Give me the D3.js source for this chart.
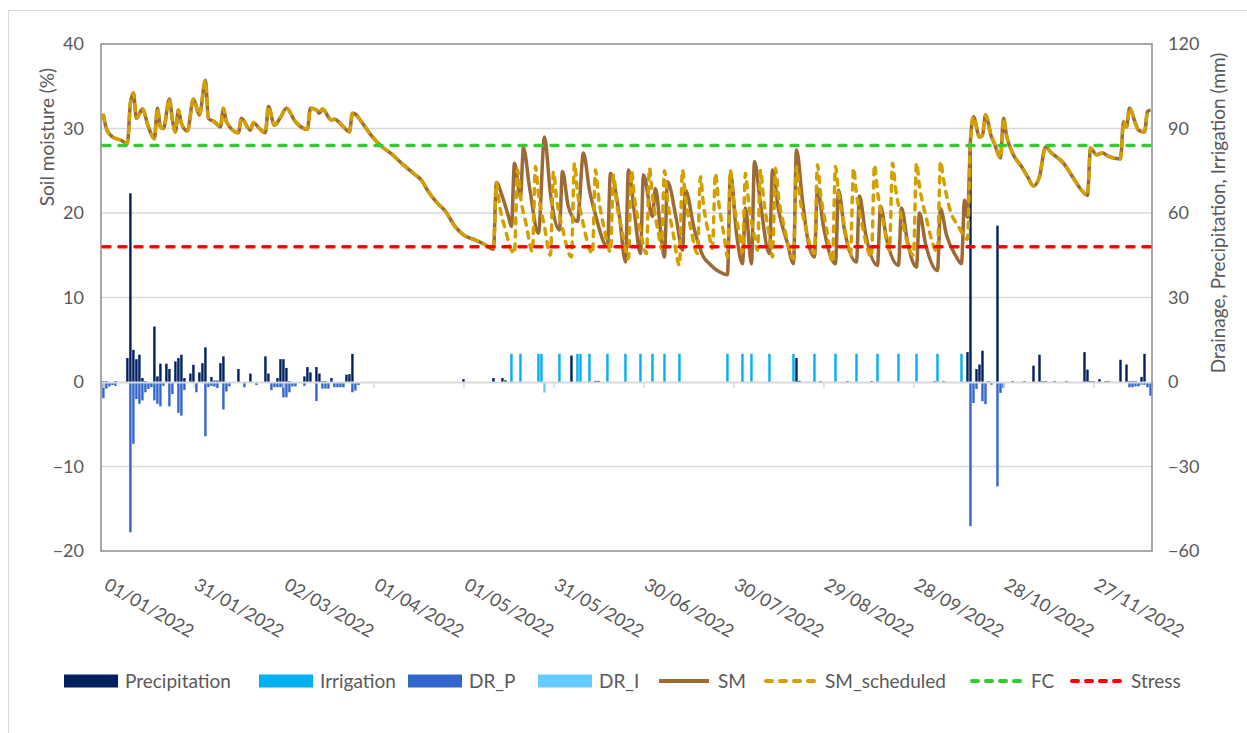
<!DOCTYPE html>
<html>
<head>
<meta charset="utf-8">
<script src="https://cdn.jsdelivr.net/npm/d3@7"></script>
<style>
  body { margin: 0; background: #fff; }
  svg text { font-family: Lato, "Open Sans", sans-serif; fill: #595959; }
</style>
</head>
<body>
<svg id="chart" width="1247" height="733"></svg>
<script>
// ---- data (day index from 01/01/2022) ----
const tickLabels = ["01/01/2022", "31/01/2022", "02/03/2022", "01/04/2022", "01/05/2022", "31/05/2022",
  "30/06/2022", "30/07/2022", "29/08/2022", "28/09/2022", "28/10/2022", "27/11/2022"];
const leftTicks = [-20, -10, 0, 10, 20, 30, 40];
const rightTicks = [-60, -30, 0, 30, 60, 90, 120];

const precipitation = [
  [0, 0.3], [1, 0.3], [4, 0.3], [8, 8.5], [9, 67], [10, 11.4], [11, 8.1], [12, 9.7], [13, 1.4], [14, 0.3],
  [17, 19.7], [18, 2], [19, 6.5], [21, 6.5], [22, 4.6], [24, 7.3], [25, 8.5], [26, 9.7], [27, 1.4],
  [29, 3], [30, 6.1], [32, 3.4], [33, 6.7], [34, 12.3], [36, 1.8], [37, 0.5], [38, 0.5], [39, 6.7], [40, 9.1],
  [45, 4.6], [49, 3], [54, 9.1], [55, 3], [58, 1.4], [59, 8.1], [60, 8.1], [61, 5], [62, 0.3],
  [67, 2], [68, 5.3], [69, 3.4], [71, 5.3], [72, 3], [73, 0.3], [74, 0.3], [76, 1.4], [81, 2.6], [82, 2.8], [83, 10],
  [120, 1], [130, 1.4], [133, 1.4], [134, 0.6], [156, 9.4], [164, 0.4], [165, 0.4], [231, 8.5], [232, 0.4],
  [239, 0.3], [248, 0.3], [256, 0.3], [277, 0.3], [280, 0.3],
  [288, 10.6], [289, 81.5], [291, 4.6], [292, 6.2], [293, 11.1], [295, 0.3], [298, 55.5], [303, 0.3], [307, 0.3],
  [310, 5.8], [312, 9.7], [313, 0.3], [314, 0.3], [317, 0.3], [321, 0.3], [327, 10.6], [328, 4.4], [329, 0.3],
  [330, 0.3], [332, 1], [334, 0.3], [335, 0.3], [339, 7.9], [341, 6.2], [342, 0.3], [343, 0.3], [344, 0.3],
  [346, 1.8], [347, 10]
];

const irrigation = [
  [136, 10], [139, 10], [145, 10], [146, 10], [152, 10], [158, 10], [159, 10], [162, 10], [168, 10],
  [174, 10], [179, 10], [183, 10], [187, 10], [192, 10], [208, 10], [213, 10], [216, 10], [222, 10],
  [230, 10], [237, 10], [244, 10], [251, 10], [258, 10], [265, 10], [271, 10], [278, 10], [286, 10]
];

const drP = [
  [0, -5.4], [1, -2], [2, -1.2], [3, -0.7], [4, -1], [9, -53], [10, -21.6], [11, -5.7], [12, -7.4], [13, -6.2],
  [14, -3.3], [15, -2.1], [16, -1.5], [17, -6.2], [18, -7.4], [19, -8.3], [20, -1], [22, -8.3], [23, -3.9],
  [25, -10.6], [26, -11.6], [27, -2.5], [31, -3.3], [34, -18.9], [35, -1.5], [36, -1], [37, -1.3], [38, -1.8],
  [40, -9.4], [41, -3], [42, -1.2], [47, -1.5], [51, -0.7], [56, -2.5], [57, -1.5], [58, -1.5], [59, -1.5],
  [60, -5.1], [61, -5.1], [62, -3.3], [63, -1.2], [64, -1.2], [67, -1], [71, -6.4], [73, -2], [74, -2], [75, -2],
  [77, -1.5], [78, -1.5], [79, -1.5], [80, -1.5], [83, -3.3], [84, -2.7], [85, -0.7],
  [289, -50.8], [290, -7.1], [291, -2.1], [293, -6.5], [294, -7.5], [296, -0.6], [298, -36.7], [299, -3.5],
  [300, -1.8], [342, -1.5], [343, -1.5], [344, -1.2], [345, -1.2], [346, -0.6], [347, -0.6], [348, -1.5], [349, -4.5]
];

const drI = [[147, -3.4]];

// soil moisture, part shared by SM and SM_scheduled (Jan - May)
const smStart = [
  [0, 31.6], [1, 30.0], [3, 29.0], [6, 28.6], [8, 28.2], [9, 33.0], [10, 34.2], [11, 31.2], [13, 32.3], [15, 30.2],
  [17, 28.8], [18, 32.4], [19, 30.2], [20, 30.0], [22, 33.5], [23, 31.0], [24, 29.6], [25, 32.2], [26, 30.6],
  [28, 29.7], [30, 33.5], [32, 31.6], [34, 35.7], [35, 31.2], [37, 30.8], [39, 30.2], [40, 32.4], [41, 30.8],
  [45, 29.5], [46, 31.2], [49, 29.8], [50, 30.7], [52, 30.0], [54, 29.5], [55, 32.6], [57, 30.4], [59, 31.3],
  [61, 32.4], [64, 30.8], [68, 29.9], [69, 32.4], [71, 32.2], [72, 31.8], [73, 32.3], [76, 31.0], [77, 31.1],
  [80, 30.2], [82, 29.6], [83, 31.8], [84, 31.7], [86, 30.8], [89, 29.3], [92, 28.1], [96, 27.0], [100, 25.7],
  [104, 24.5], [106, 23.9], [108, 22.7], [111, 21.3], [114, 20.2], [117, 18.5], [120, 17.4], [124, 16.8],
  [127, 16.3], [130, 15.7], [131, 23.6]
];

// measured SM during the irrigation season
const smSeason = [
  [133, 21.9], [135, 19.6], [136, 18.4], [137, 25.9], [139, 21.9], [140, 27.7], [142, 23.1], [145, 17.6],
  [147, 29.0], [149, 22.3], [152, 18.0], [153, 24.9], [155, 20.7], [158, 19.0], [160, 27.1], [162, 22.7],
  [164, 19.8], [168, 16.0], [169, 24.7], [172, 19.6], [174, 14.2], [175, 25.1], [177, 20.0], [179, 15.2],
  [180, 24.5], [183, 19.6], [184, 22.9], [186, 16.8], [187, 14.8], [188, 23.7], [191, 19.2], [193, 15.6],
  [194, 22.7], [197, 18.0], [200, 14.8], [202, 14.0], [205, 13.1], [208, 12.7], [209, 24.7], [211, 17.6],
  [213, 14.0], [214, 20.6], [216, 14.0], [217, 26.1], [219, 21.1], [222, 15.2], [223, 25.1], [225, 20.4],
  [228, 16.4], [230, 14.0], [231, 27.5], [233, 21.5], [235, 16.4], [237, 14.8], [238, 22.9], [240, 18.4],
  [244, 14.0], [245, 22.7], [247, 18.0], [251, 14.2], [252, 22.0], [254, 17.6], [258, 13.8], [259, 20.8],
  [261, 17.0], [265, 13.8], [266, 20.6], [268, 16.6], [271, 13.6], [272, 20.0], [274, 16.4], [278, 13.2],
  [279, 20.5], [281, 17.4], [284, 15.0], [286, 14.0], [287, 21.5], [288, 19.5]
];

// scheduled SM during the irrigation season
const smSchedSeason = [
  [132, 21.0], [134, 18.0], [136, 15.6], [137, 15.2], [138, 25.1], [139, 22.0], [141, 18.5], [143, 15.4],
  [144, 25.5], [145, 22.3], [147, 18.4], [149, 15.0], [150, 24.9], [151, 21.8], [153, 18.2], [156, 14.8],
  [157, 25.9], [158, 22.5], [160, 18.6], [163, 15.2], [164, 25.1], [165, 22.0], [167, 18.0], [169, 15.4],
  [170, 24.5], [171, 21.4], [173, 17.6], [175, 14.6], [176, 25.0], [177, 21.8], [179, 17.8], [181, 15.2],
  [182, 25.3], [183, 22.0], [185, 17.6], [186, 15.8], [187, 25.0], [188, 21.6], [190, 17.4], [192, 13.8],
  [193, 25.1], [194, 21.8], [196, 17.8], [198, 15.2], [199, 24.3], [200, 21.0], [202, 17.2], [203, 15.8],
  [204, 24.7], [205, 21.5], [207, 17.0], [208, 14.8], [209, 25.0], [210, 21.6], [212, 17.4], [213, 15.4],
  [214, 24.7], [215, 21.4], [217, 17.2], [218, 15.6], [219, 25.1], [220, 21.8], [222, 17.2], [223, 14.8],
  [224, 25.3], [225, 22.0], [227, 18.2], [230, 14.6], [231, 25.5], [232, 22.2], [234, 18.4], [237, 15.2],
  [238, 25.7], [239, 22.4], [241, 18.2], [243, 14.2], [244, 25.5], [245, 22.4], [247, 18.4], [249, 15.0],
  [250, 25.3], [251, 22.3], [253, 18.4], [256, 14.8], [257, 25.7], [258, 22.6], [260, 18.8], [262, 15.6],
  [263, 25.9], [264, 23.0], [266, 19.4], [270, 15.0], [271, 25.9], [272, 23.2], [274, 19.8], [278, 15.4],
  [279, 26.1], [280, 24.0], [282, 20.6], [285, 18.4], [288, 16.9]
];

// shared again after the October rain
const smEnd = [
  [289, 28.6], [290, 31.4], [292, 29.0], [293, 29.2], [294, 31.6], [296, 29.0], [297, 28.2], [299, 26.5],
  [300, 31.2], [301, 29.2], [303, 27.1], [306, 25.5], [308, 24.3], [310, 23.2], [312, 24.3], [314, 27.8],
  [316, 27.1], [320, 25.9], [323, 24.3], [326, 22.7], [328, 22.1], [329, 27.7], [331, 26.9], [333, 27.1],
  [335, 26.7], [339, 26.4], [340, 30.8], [341, 30.2], [342, 32.4], [344, 30.6], [345, 29.8], [347, 29.6],
  [348, 32.0], [349, 32.2]
];

const fcLevel = 28;
const stressLevel = 16;

// ---- layout ----
const L = 101, R = 1152, T = 44, B = 551;
const svg = d3.select("#chart");

const parseDay = d3.timeParse("%d/%m/%Y");
const day0 = parseDay(tickLabels[0]);
const tickDays = tickLabels.map(s => d3.timeDay.count(day0, parseDay(s)));

const x = d3.scaleLinear().domain([-0.8, 349.5]).range([L, R]);
const y = d3.scaleLinear().domain([-20, 40]).range([B, T]);
const y2 = d3.scaleLinear().domain([-60, 120]).range([B, T]);

// outer chart border
svg.append("rect")
  .attr("x", 8.5).attr("y", 10.5).attr("width", 1260).attr("height", 740)
  .attr("fill", "none").attr("stroke", "#d9d9d9");

// gridlines
svg.append("g")
  .selectAll("line")
  .data(leftTicks.filter(v => v !== 0 && v !== 40 && v !== -20))
  .enter().append("line")
  .attr("x1", L).attr("x2", R)
  .attr("y1", d => y(d)).attr("y2", d => y(d))
  .attr("stroke", "#d9d9d9").attr("stroke-width", 1.5);

// bars
const bw = x(1) - x(0) - 0.6;
function drawBars(data, color) {
  svg.append("g")
    .selectAll("rect")
    .data(data)
    .enter().append("rect")
    .attr("x", d => x(d[0]) - bw / 2)
    .attr("width", bw)
    .attr("y", d => d[1] >= 0 ? y2(d[1]) : y2(0) + 1)
    .attr("height", d => Math.max(0.8, Math.abs(y2(d[1]) - y2(0))))
    .attr("fill", color);
}
drawBars(precipitation, "#002060");
drawBars(irrigation, "#00b0f0");
drawBars(drP, "#3366cc");
drawBars(drI, "#66ccff");

// zero axis with ticks
const xAxis = svg.append("g")
  .attr("transform", `translate(0,${y(0)})`)
  .call(d3.axisBottom(x).tickValues(tickDays).tickSize(6).tickFormat(""));
xAxis.select(".domain").attr("stroke", "#d9d9d9").attr("stroke-width", 2);
xAxis.selectAll(".tick line").attr("stroke", "#d9d9d9").attr("stroke-width", 1.5);

// plot border
svg.append("rect")
  .attr("x", L).attr("y", T).attr("width", R - L).attr("height", B - T)
  .attr("fill", "none").attr("stroke", "#8c8c8c").attr("stroke-width", 1.5);

// lines
const line = d3.line().x(d => x(d[0])).y(d => y(d[1])).curve(d3.curveMonotoneX);
const smData = smStart.concat(smSeason, smEnd);
const smSchedData = smStart.concat(smSchedSeason, smEnd);

svg.append("path").datum(smData)
  .attr("d", line).attr("fill", "none")
  .attr("stroke", "#9c6a34").attr("stroke-width", 3.5)
  .attr("stroke-linejoin", "round");

svg.append("path").datum(smSchedData)
  .attr("d", line).attr("fill", "none")
  .attr("stroke", "#d4a000").attr("stroke-width", 3.5)
  .attr("stroke-dasharray", "6,7").attr("stroke-linecap", "round")
  .attr("stroke-linejoin", "round");

[[fcLevel, "#33cc33"], [stressLevel, "#ff0000"]].forEach(([lv, c]) => {
  svg.append("line")
    .attr("x1", L + 2).attr("x2", R - 2)
    .attr("y1", y(lv)).attr("y2", y(lv))
    .attr("stroke", c).attr("stroke-width", 3.5)
    .attr("stroke-dasharray", "7,9").attr("stroke-linecap", "round");
});

// y axes labels
const leftAxis = svg.append("g")
  .attr("transform", `translate(${L},0)`)
  .call(d3.axisLeft(y).tickValues(leftTicks).tickSize(0).tickPadding(17));
leftAxis.select(".domain").remove();
leftAxis.selectAll("text").style("font-size", "18px").attr("fill", "#595959");

const rightAxis = svg.append("g")
  .attr("transform", `translate(${R},0)`)
  .call(d3.axisRight(y2).tickValues(rightTicks).tickSize(0).tickPadding(16));
rightAxis.select(".domain").remove();
rightAxis.selectAll("text").style("font-size", "18px").attr("fill", "#595959");

// date labels
svg.append("g")
  .selectAll("text")
  .data(tickDays)
  .enter().append("text")
  .attr("transform", (d, i) => `translate(${x(d) + 6},577) rotate(30)`)
  .attr("dy", "0.72em")
  .style("font-size", "18px")
  .text((d, i) => tickLabels[i]);

// axis titles
svg.append("text")
  .attr("transform", "translate(47,137) rotate(-90)")
  .attr("text-anchor", "middle").attr("dy", "0.35em")
  .style("font-size", "19px")
  .text("Soil moisture (%)");

svg.append("text")
  .attr("transform", "translate(1218,213) rotate(-90)")
  .attr("text-anchor", "middle").attr("dy", "0.35em")
  .style("font-size", "19px")
  .text("Drainage, Precipitation, Irrigation (mm)");

// legend
const legendItems = [
  { name: "Precipitation", type: "bar", color: "#002060", x: 64 },
  { name: "Irrigation", type: "bar", color: "#00b0f0", x: 259 },
  { name: "DR_P", type: "bar", color: "#3366cc", x: 408 },
  { name: "DR_I", type: "bar", color: "#66ccff", x: 538 },
  { name: "SM", type: "line", color: "#9c6a34", x: 657 },
  { name: "SM_scheduled", type: "dash", color: "#d4a000", x: 764 },
  { name: "FC", type: "dash", color: "#33cc33", x: 970 },
  { name: "Stress", type: "dash", color: "#ff0000", x: 1070 }
];
const ly = 681;
const lg = svg.append("g");
legendItems.forEach(it => {
  if (it.type === "bar") {
    lg.append("rect").attr("x", it.x).attr("y", ly - 6.5).attr("width", 54).attr("height", 13)
      .attr("fill", it.color);
  } else {
    const ln = lg.append("line")
      .attr("x1", it.x + 2).attr("x2", it.x + 52)
      .attr("y1", ly).attr("y2", ly)
      .attr("stroke", it.color).attr("stroke-width", 4);
    if (it.type === "dash") ln.attr("stroke-dasharray", "6,8").attr("stroke-linecap", "round");
  }
  lg.append("text")
    .attr("x", it.x + 61).attr("y", ly).attr("dy", "0.36em")
    .style("font-size", "19px")
    .text(it.name);
});
</script>
</body>
</html>
